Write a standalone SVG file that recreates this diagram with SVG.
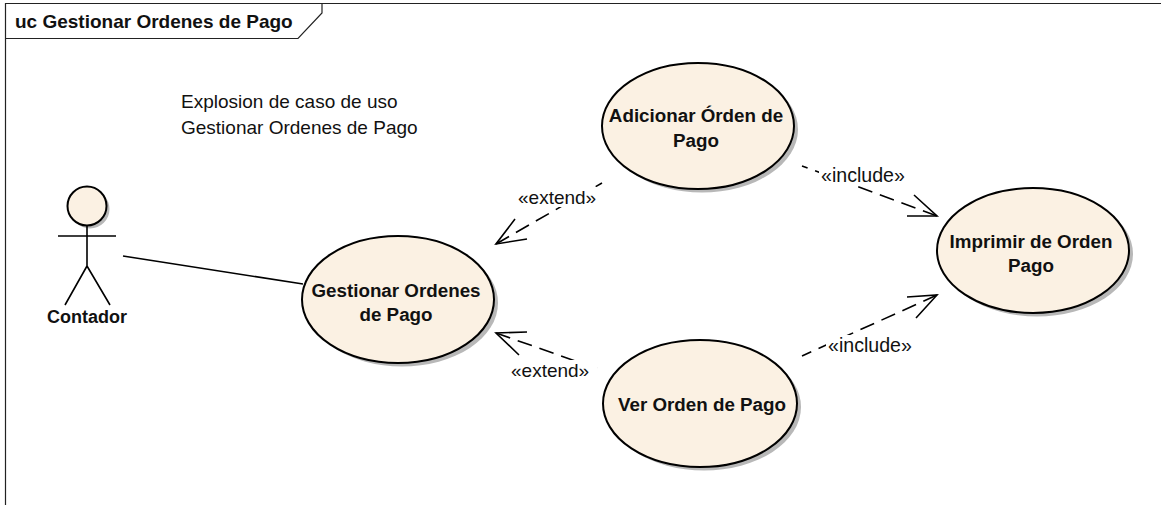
<svg xmlns="http://www.w3.org/2000/svg" width="1161" height="505" viewBox="0 0 1161 505">
<defs><filter id="soft" x="-5%" y="-5%" width="110%" height="110%"><feGaussianBlur stdDeviation="0.7"/></filter></defs>
<style>
text{font-family:"Liberation Sans",Arial,sans-serif;fill:#111}
.b{font-size:18.8px;font-weight:bold;text-anchor:middle}
.r{font-size:19px}
.i{font-size:19.6px}
.u{fill:#fbf1e3;stroke:#000;stroke-width:2}
.s{fill:#b8b8b8;stroke:none;filter:url(#soft)}
.l{fill:none;stroke:#000;stroke-width:1.6}
.d{stroke-dasharray:15 8}
.lb{fill:#fff;stroke:none}
</style>
<rect width="1161" height="505" fill="#fff"/>
<g id="frame">
<path d="M5.5 505V3.5H1161" fill="none" stroke="#222" stroke-width="1.2"/>
<path d="M5.5 38.5H298L322 13V3.5" fill="none" stroke="#222" stroke-width="1.2"/>
<text x="15" y="28" style="font-size:19px;font-weight:bold">uc Gestionar Ordenes de Pago</text>
</g>
<g id="note"><text class="r" x="181" y="108">Explosion de caso de uso</text><text class="r" x="181" y="134">Gestionar Ordenes de Pago</text></g>
<g id="connectors">
<path class="l" d="M123 256L303 284"/>
<path class="l d" d="M496 244L602 183"/>
<path class="l" d="M515 219L496 244L527 239"/>
<path class="l d" d="M496 333L604 371"/>
<path class="l" d="M527 332L496 333L519 355"/>
<path class="l d" d="M937 216L802 166"/>
<path class="l" d="M914 195L937 216L907 216"/>
<path class="l d" d="M937 295L802 356"/>
<path class="l" d="M907 297L937 295L916 318"/>
<rect class="lb" x="516" y="187" width="83" height="20"/>
<rect class="lb" x="509" y="360" width="88" height="21"/>
<rect class="lb" x="819" y="165" width="88" height="20"/>
<rect class="lb" x="826" y="335" width="88" height="21"/>
<text class="r" x="518" y="204">«extend»</text>
<text class="r" x="511" y="377">«extend»</text>
<text class="i" x="821" y="182">«include»</text>
<text class="i" x="828" y="352">«include»</text>
</g>
<g id="actor-contador">
<circle class="s" cx="90" cy="209" r="19.5"/>
<circle class="u" cx="87" cy="206" r="19.5"/>
<path class="l" d="M87 226V266M58 236H116M87 266L65 305M87 266L110 305"/>
<text class="b" x="87" y="323" style="font-size:18px">Contador</text>
</g>
<g id="uc-gestionar">
<ellipse class="s" cx="402" cy="303" rx="96" ry="63.5"/>
<ellipse class="u" cx="398" cy="299.5" rx="96" ry="63.5"/>
<text class="b" x="396" y="297">Gestionar Ordenes</text><text class="b" x="396" y="321">de Pago</text>
</g>
<g id="uc-adicionar">
<ellipse class="s" cx="702" cy="129.5" rx="96" ry="63"/>
<ellipse class="u" cx="698" cy="126" rx="96" ry="63"/>
<text class="b" x="696" y="122">Adicionar Órden de</text><text class="b" x="696" y="147">Pago</text>
</g>
<g id="uc-ver">
<ellipse class="s" cx="704" cy="407" rx="97" ry="63.5"/>
<ellipse class="u" cx="700" cy="403.5" rx="97" ry="63.5"/>
<text class="b" x="702" y="411">Ver Orden de Pago</text>
</g>
<g id="uc-imprimir">
<ellipse class="s" cx="1037" cy="254" rx="96" ry="62.5"/>
<ellipse class="u" cx="1033" cy="250.5" rx="96" ry="62.5"/>
<text class="b" x="1031" y="248">Imprimir de Orden</text><text class="b" x="1031" y="272">Pago</text>
</g>
</svg>
